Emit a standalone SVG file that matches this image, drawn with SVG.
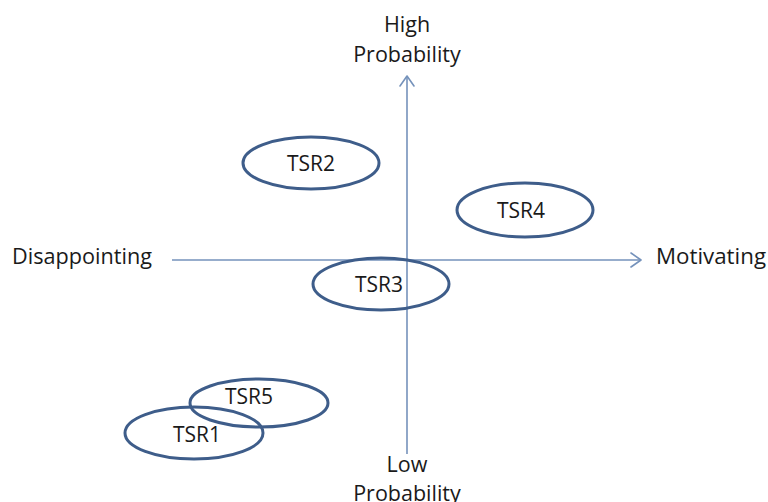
<svg xmlns="http://www.w3.org/2000/svg" width="768" height="502" viewBox="0 0 768 502">
<defs>
<style>
text{font-family:"Open Sans","Liberation Sans",sans-serif;font-size:21.5px;fill:#1a1a1a;text-anchor:middle}
.ax{stroke:#7592bb;stroke-width:1.6;fill:none}
.ah{stroke:#7592bb;stroke-width:1.6;fill:none;stroke-linecap:round;stroke-linejoin:round}
.n ellipse{fill:none;stroke:#3e5d8a;stroke-width:3}
.n text{font-size:21px}
</style>
</defs>
<rect width="768" height="502" fill="#fff"/>
<g id="connectors">
<line class="ax" x1="407" y1="454" x2="407" y2="76"/>
<polyline class="ah" points="400,86 407,76 414,86"/>
<line class="ax" x1="172" y1="260" x2="641" y2="260"/>
<polyline class="ah" points="631,253 641,260 631,267"/>
</g>
<g id="axis-labels">
<text x="407" y="32">High</text>
<text x="407" y="62">Probability</text>
<text x="82" y="264" textLength="140" lengthAdjust="spacingAndGlyphs">Disappointing</text>
<text x="711" y="264" textLength="110" lengthAdjust="spacingAndGlyphs">Motivating</text>
<text x="407" y="472">Low</text>
<text x="407" y="501">Probability</text>
</g>
<g id="tsr2" class="n"><ellipse cx="311" cy="163" rx="68" ry="26"/><text x="311" y="171">TSR2</text></g>
<g id="tsr4" class="n"><ellipse cx="525" cy="210" rx="68" ry="27"/><text x="521" y="218">TSR4</text></g>
<g id="tsr3" class="n"><ellipse cx="381" cy="284" rx="68" ry="26"/><text x="379" y="292">TSR3</text></g>
<g id="tsr5" class="n"><ellipse cx="259" cy="403" rx="69" ry="24"/><text x="249" y="404">TSR5</text></g>
<g id="tsr1" class="n"><ellipse cx="194" cy="433" rx="69" ry="26"/><text x="197" y="442">TSR1</text></g>
</svg>
